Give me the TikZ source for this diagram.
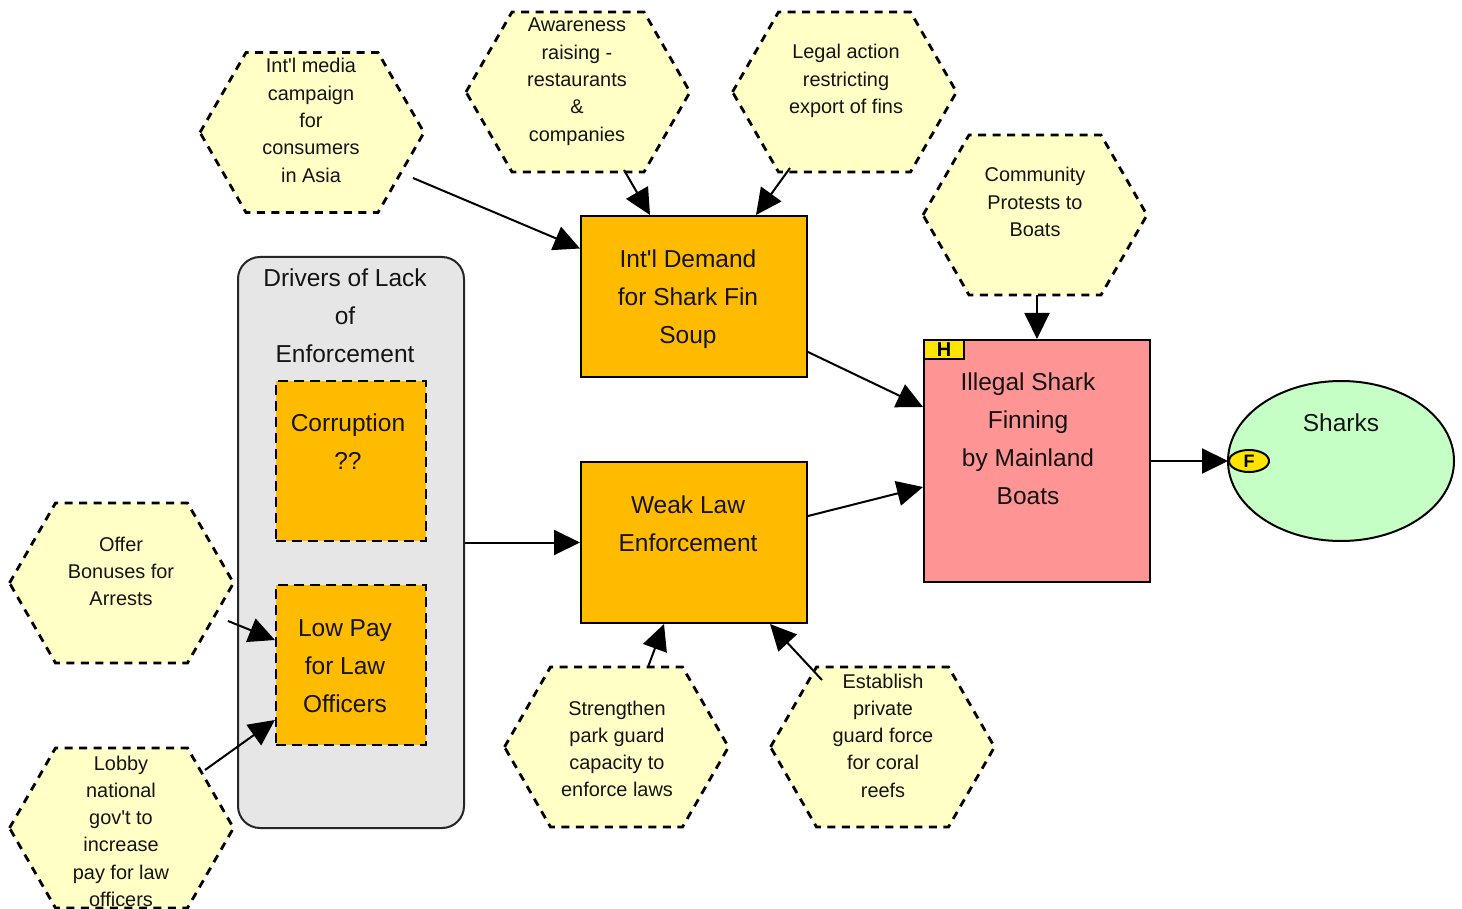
\documentclass[tikz,border=0pt]{standalone}
\usepackage{fontspec}
\setmainfont{Liberation Sans}
\usetikzlibrary{arrows.meta,shapes.geometric}

\definecolor{hexfill}{RGB}{255,255,198}
\definecolor{boxfill}{RGB}{255,187,0}
\definecolor{pinkfill}{RGB}{255,148,148}
\definecolor{greenfill}{RGB}{198,255,198}
\definecolor{groupfill}{RGB}{230,230,230}
\definecolor{tagfill}{RGB}{255,228,0}
\definecolor{ink}{RGB}{20,20,20}

\tikzset{
  hexarea/.style={minimum width=224pt,minimum height=160pt,inner sep=0pt,outer sep=0pt},
  hexline/.style={fill=hexfill,draw=black,line width=2.8pt,dash pattern=on 8pt off 6.5pt},
  hextext/.style={anchor=base,align=center,inner sep=0pt,text=ink,
    font=\fontsize{19.9}{27.3}\selectfont},
  boxtext/.style={anchor=base,align=center,inner sep=0pt,text=ink,
    font=\fontsize{24.5}{38.3}\selectfont},
  stockbox/.style={draw=black,line width=2pt,fill=boxfill,inner sep=0pt,
    minimum width=226pt,minimum height=161pt},
  dashbox/.style={draw=black,line width=2.2pt,fill=boxfill,inner sep=0pt,
    dash pattern=on 10pt off 6pt,minimum width=150pt,minimum height=160pt},
  groupbox/.style={draw=black!85,line width=2pt,fill=groupfill,rounded corners=22pt,
    inner sep=0pt,minimum width=226pt,minimum height=571pt},
  tagbox/.style={draw=black,line width=2pt,fill=tagfill,inner sep=0pt,
    font=\bfseries\fontsize{20}{20}\selectfont},
  arr/.style={line width=2pt,-{Triangle[length=26pt,width=25pt]}},
}

% hexagon: name, centre x, centre y, text x, last baseline y, text
\newcommand\hexnode[6]{%
  \node[hexarea] (#1) at (#2,#3) {};
  \path[hexline] (#1.west) -- ([xshift=46pt]#1.north west) -- ([xshift=-46pt]#1.north east)
    -- (#1.east) -- ([xshift=-46pt]#1.south east) -- ([xshift=46pt]#1.south west) -- cycle;
  \node[hextext] (#1-t) at (#4,#5) {#6};
}

\begin{document}
\begin{tikzpicture}[x=1pt,y=-1pt]
  \useasboundingbox (0,0) rectangle (1462,909);
  \fill[white] (0,0) rectangle (1462,909);

  % policy levers
  \hexnode{media}{312}{132.5}{311}{182.2}{Int\textquotesingle l media\\campaign\\for\\consumers\\in Asia}
  \hexnode{awareness}{578}{92}{577}{141.2}{Awareness\\raising -\\restaurants\\\&\\companies}
  \hexnode{legal}{844.5}{92}{846}{113.6}{Legal action\\restricting\\export of fins}
  \hexnode{community}{1035}{215}{1035}{236.6}{Community\\Protests to\\Boats}
  \hexnode{offer}{121.5}{583}{121}{605.6}{Offer\\Bonuses for\\Arrests}
  \hexnode{lobby}{121.5}{828}{121}{906.5}{Lobby\\national\\gov\textquotesingle t to\\increase\\pay for law\\officers}
  \hexnode{strengthen}{616.5}{747}{617}{796.9}{Strengthen\\park guard\\capacity to\\enforce laws}
  \hexnode{establish}{882.5}{747}{883}{797.2}{Establish\\private\\guard force\\for coral\\reefs}

  % driver group
  \node[groupbox] (drivers) at (351,542.5) {};
  \node[boxtext] (drivers-t) at (345,362.6) {Drivers of Lack\\of\\Enforcement};
  \node[dashbox] (corruption) at (351,461) {};
  \node[boxtext] (corruption-t) at (348,469.3) {Corruption\\??};
  \node[dashbox] (lowpay) at (351,665) {};
  \node[boxtext] (lowpay-t) at (345,712.6) {Low Pay\\for Law\\Officers};

  % factors
  \node[stockbox] (demand) at (694,296.5) {};
  \node[boxtext] (demand-t) at (688,343.6) {Int\textquotesingle l Demand\\for Shark Fin\\Soup};
  \node[stockbox] (weak) at (694,542.5) {};
  \node[boxtext] (weak-t) at (688,551.3) {Weak Law\\Enforcement};

  % threat
  \node[stockbox,fill=pinkfill,minimum height=242pt] (illegal) at (1037,461) {};
  \node[boxtext] (illegal-t) at (1028,504.9) {Illegal Shark\\Finning\\by Mainland\\Boats};
  \node[tagbox,minimum width=40pt,minimum height=19pt] (htag) at (944,349.5) {H};

  % target
  \node[ellipse,draw=black,line width=2pt,fill=greenfill,inner sep=0pt,
        minimum width=226pt,minimum height=160pt] (sharks) at (1341,461) {};
  \node[boxtext] (sharks-t) at (1341,431) {Sharks};
  \node[ellipse,tagbox,minimum width=40pt,minimum height=22pt,
        font=\bfseries\fontsize{18}{18}\selectfont] (ftag) at (1249,461) {F};

  % links
  \draw[arr] ([shift={(101,45.5)}]media.center) -- ([shift={(0,-48)}]demand.west);
  \draw[arr] ([shift={(46,78)}]awareness.center) -- ([xshift=-44pt]demand.north);
  \draw[arr] ([shift={(-54.5,76)}]legal.center) -- ([xshift=62pt]demand.north);
  \draw[arr] ([shift={(0,55.5)}]demand.east) -- ([shift={(0,-54)}]illegal.west);
  \draw[arr] ([shift={(0,-26.5)}]weak.east) -- ([shift={(0,26)}]illegal.west);
  \draw[arr] (community.south -| illegal.north) -- (illegal.north);
  \draw[arr] (illegal.east) -- (ftag.west);
  \draw[arr] (drivers.east) -- (weak.west);
  \draw[arr] ([shift={(106.5,38)}]offer.center) -- ([shift={(0,-25)}]lowpay.west);
  \draw[arr] ([shift={(83.5,-58)}]lobby.center) -- ([shift={(0,55)}]lowpay.west);
  \draw[arr] ([xshift=31.5pt]strengthen.north) -- ([xshift=-30pt]weak.south);
  \draw[arr] ([shift={(-60.5,-67)}]establish.center) -- ([xshift=76pt]weak.south);
\end{tikzpicture}
\end{document}
